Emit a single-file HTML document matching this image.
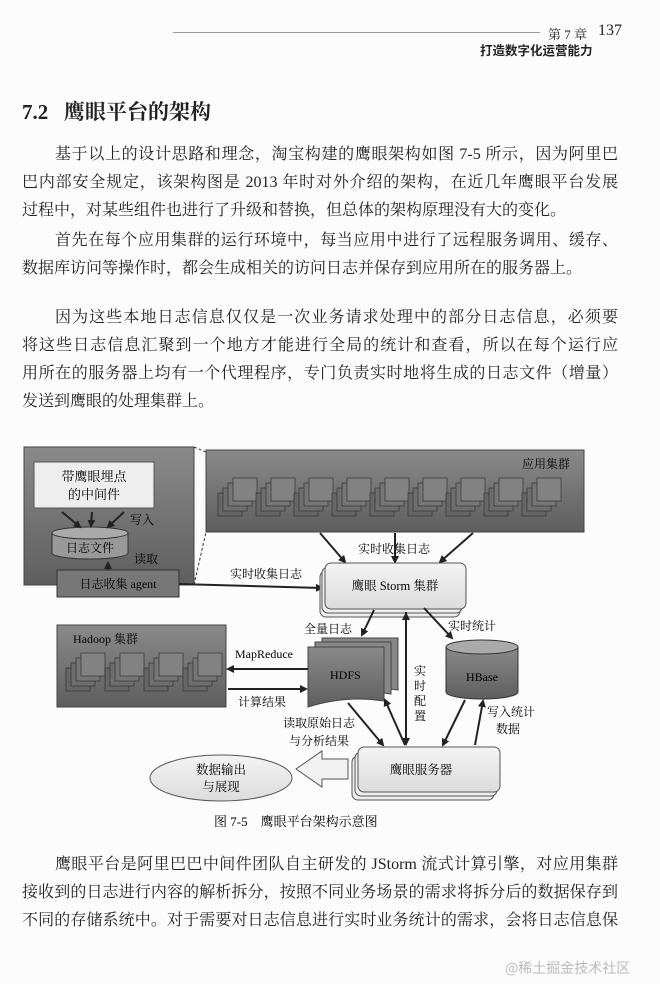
<!DOCTYPE html>
<html><head><meta charset="utf-8">
<style>
html,body{margin:0;padding:0;background:#fcfcfc;}
body{width:660px;height:984px;position:relative;overflow:hidden;font-family:"Liberation Serif","Noto Serif CJK SC",serif;color:#222;}
.a{position:absolute;white-space:nowrap;}
.l{position:absolute;left:22px;width:596px;font-size:16px;height:20px;line-height:20px;text-align:justify;text-align-last:justify;white-space:nowrap;overflow:visible}
.l.i{left:55px;width:563px}
.l.e{text-align-last:left}
</style></head><body>
<div class="a" style="left:173px;top:32px;width:367px;border-top:1px solid #999"></div>
<div class="a" style="left:548px;top:24px;font-size:13px">第 7 章</div>
<div class="a" style="left:598px;top:22px;font-size:16px">137</div>
<div class="a" style="left:480px;top:40px;font-size:12.5px;font-weight:bold;font-family:'Noto Sans CJK SC',sans-serif">打造数字化运营能力</div>
<div class="a" style="left:22px;top:96px;font-size:21px;font-weight:bold;font-family:'Liberation Serif','Noto Serif CJK SC',serif">7.2&nbsp;&nbsp;&nbsp;鹰眼平台的架构</div>

<div class="l i" style="top:145px">基于以上的设计思路和理念，淘宝构建的鹰眼架构如图 7-5 所示，因为阿里巴</div>
<div class="l" style="top:173px">巴内部安全规定，该架构图是 2013 年时对外介绍的架构，在近几年鹰眼平台发展</div>
<div class="l e" style="top:201px">过程中，对某些组件也进行了升级和替换，但总体的架构原理没有大的变化。</div>
<div class="l i" style="top:231px">首先在每个应用集群的运行环境中，每当应用中进行了远程服务调用、缓存、</div>
<div class="l e" style="top:259px">数据库访问等操作时，都会生成相关的访问日志并保存到应用所在的服务器上。</div>
<div class="l i" style="top:308px">因为这些本地日志信息仅仅是一次业务请求处理中的部分日志信息，必须要</div>
<div class="l" style="top:336px">将这些日志信息汇聚到一个地方才能进行全局的统计和查看，所以在每个运行应</div>
<div class="l" style="top:364px">用所在的服务器上均有一个代理程序，专门负责实时地将生成的日志文件（增量）</div>
<div class="l e" style="top:392px">发送到鹰眼的处理集群上。</div>

<svg class="a" style="left:0;top:0" width="660" height="984" font-family="Liberation Serif, Noto Serif CJK SC, serif">
<defs>
<linearGradient id="dk" x1="0" y1="0" x2="0" y2="1"><stop offset="0" stop-color="#8a8a8a"/><stop offset="1" stop-color="#5e5e5e"/></linearGradient>
<linearGradient id="lt" x1="0" y1="0" x2="0" y2="1"><stop offset="0" stop-color="#f4f4f4"/><stop offset="1" stop-color="#dcdcdc"/></linearGradient>
<marker id="ar" markerWidth="8" markerHeight="8" refX="6" refY="4" orient="auto" markerUnits="userSpaceOnUse"><path d="M0,0 L8,4 L0,8 z" fill="#222"/></marker>
<g id="st"><rect x="0" y="15" width="24" height="23" fill="#666" stroke="#333" stroke-width=".7"/><rect x="5" y="10" width="24" height="23" fill="#6e6e6e" stroke="#333" stroke-width=".7"/><rect x="10" y="5" width="24" height="23" fill="#767676" stroke="#333" stroke-width=".7"/><rect x="15" y="0" width="24" height="23" fill="#828282" stroke="#333" stroke-width=".7"/></g>
</defs>
<!-- left box -->
<rect x="24" y="447" width="170" height="138" fill="url(#dk)" stroke="#444"/>
<rect x="34" y="462" width="120" height="46" fill="#eee" stroke="#555"/>
<text x="94" y="481" font-size="13" text-anchor="middle">带鹰眼埋点</text>
<text x="94" y="499" font-size="13" text-anchor="middle">的中间件</text>
<path d="M52,533 v20 a38,6 0 0 0 76,0 v-20" fill="#999" stroke="#333"/>
<ellipse cx="90" cy="533" rx="38" ry="6" fill="#aaa" stroke="#333"/>
<text x="90" y="552" font-size="12" text-anchor="middle">日志文件</text>
<line x1="62" y1="512" x2="80" y2="527" stroke="#222" stroke-width="2" marker-end="url(#ar)"/>
<line x1="92" y1="512" x2="91" y2="526" stroke="#222" stroke-width="2" marker-end="url(#ar)"/>
<line x1="124" y1="512" x2="108" y2="527" stroke="#222" stroke-width="2" marker-end="url(#ar)"/>
<text x="130" y="524" font-size="12">写入</text>
<text x="134" y="563" font-size="12">读取</text>
<line x1="108" y1="570" x2="108" y2="563" stroke="#222" stroke-width="2" marker-end="url(#ar)"/>
<rect x="57" y="570" width="122" height="27" fill="#777" stroke="#333"/>
<text x="118" y="588" font-size="12" text-anchor="middle">日志收集 agent</text>
<line x1="194" y1="447" x2="206" y2="452" stroke="#333" stroke-dasharray="3,2"/>
<line x1="194" y1="585" x2="206" y2="532" stroke="#333" stroke-dasharray="3,2"/>
<!-- app cluster -->
<rect x="206" y="450" width="378" height="82" fill="url(#dk)" stroke="#444"/>
<text x="522" y="468" font-size="12">应用集群</text>
<use href="#st" x="218" y="478"/><use href="#st" x="256" y="478"/><use href="#st" x="294" y="478"/><use href="#st" x="332" y="478"/><use href="#st" x="370" y="478"/><use href="#st" x="408" y="478"/><use href="#st" x="446" y="478"/><use href="#st" x="484" y="478"/><use href="#st" x="522" y="478"/>
<!-- arrows to storm -->
<line x1="320" y1="533" x2="345" y2="562" stroke="#222" stroke-width="2" marker-end="url(#ar)"/>
<line x1="395" y1="533" x2="395" y2="562" stroke="#222" stroke-width="2" marker-end="url(#ar)"/>
<line x1="473" y1="533" x2="440" y2="562" stroke="#222" stroke-width="2" marker-end="url(#ar)"/>
<text x="358" y="553" font-size="12">实时收集日志</text>
<line x1="179" y1="584" x2="322" y2="588" stroke="#222" stroke-width="2" marker-end="url(#ar)"/>
<text x="230" y="578" font-size="12">实时收集日志</text>
<!-- storm -->
<rect x="320" y="571" width="140" height="46" rx="6" fill="#eee" stroke="#555"/>
<rect x="322" y="567" width="140" height="46" rx="6" fill="#eee" stroke="#555"/>
<rect x="325" y="563" width="141" height="46" rx="6" fill="url(#lt)" stroke="#555"/>
<text x="395" y="590" font-size="12.5" text-anchor="middle">鹰眼 Storm 集群</text>
<!-- hadoop -->
<rect x="57" y="625" width="169" height="82" fill="url(#dk)" stroke="#444"/>
<text x="73" y="643" font-size="12">Hadoop 集群</text>
<use href="#st" x="66" y="653"/><use href="#st" x="105" y="653"/><use href="#st" x="144" y="653"/><use href="#st" x="183" y="653"/>
<!-- hdfs -->
<path d="M322,638 h76 v52 q-38,-6 -76,6 z" fill="#888" stroke="#444"/>
<path d="M315,642 h76 v52 q-38,-6 -76,6 z" fill="#888" stroke="#444"/>
<path d="M308,647 h76 v54 q-38,-6 -76,6 z" fill="url(#dk)" stroke="#444"/>
<text x="330" y="679" font-size="12">HDFS</text>
<text x="352" y="633" font-size="12" text-anchor="end">全量日志</text>
<line x1="374" y1="610" x2="362" y2="635" stroke="#222" stroke-width="2" marker-end="url(#ar)"/>
<line x1="308" y1="669" x2="228" y2="669" stroke="#222" stroke-width="2" marker-end="url(#ar)"/>
<text x="235" y="658" font-size="12">MapReduce</text>
<line x1="228" y1="689" x2="306" y2="689" stroke="#222" stroke-width="2" marker-end="url(#ar)"/>
<text x="238" y="706" font-size="12">计算结果</text>
<!-- hbase -->
<path d="M446,647 v45 a36,7 0 0 0 72,0 v-45" fill="url(#dk)" stroke="#333"/>
<ellipse cx="482" cy="647" rx="36" ry="7" fill="#aaa" stroke="#333"/>
<text x="482" y="681" font-size="12" text-anchor="middle">HBase</text>
<line x1="424" y1="608" x2="452" y2="638" stroke="#222" stroke-width="2" marker-end="url(#ar)"/>
<text x="448" y="630" font-size="12">实时统计</text>
<!-- storm <-> server -->
<line x1="406" y1="612" x2="406" y2="744" stroke="#222" stroke-width="2" marker-end="url(#ar)"/>
<line x1="406" y1="744" x2="406" y2="614" stroke="#222" stroke-width="2" marker-end="url(#ar)"/>
<text x="414" y="675" font-size="12">实</text><text x="414" y="690" font-size="12">时</text><text x="414" y="705" font-size="12">配</text><text x="414" y="720" font-size="12">置</text>
<line x1="348" y1="703" x2="383" y2="745" stroke="#222" stroke-width="2" marker-end="url(#ar)"/>
<line x1="405" y1="745" x2="385" y2="700" stroke="#222" stroke-width="2" marker-end="url(#ar)"/>
<text x="283" y="727" font-size="12">读取原始日志</text>
<text x="289" y="745" font-size="12">与分析结果</text>
<line x1="465" y1="700" x2="443" y2="745" stroke="#222" stroke-width="2" marker-end="url(#ar)"/>
<line x1="475" y1="745" x2="483" y2="701" stroke="#222" stroke-width="2" marker-end="url(#ar)"/>
<text x="487" y="716" font-size="12">写入统计</text>
<text x="496" y="733" font-size="12">数据</text>
<!-- server -->
<rect x="352" y="756" width="142" height="44" rx="6" fill="#eee" stroke="#555"/>
<rect x="355" y="752" width="142" height="44" rx="6" fill="#eee" stroke="#555"/>
<rect x="358" y="747" width="142" height="45" rx="6" fill="url(#lt)" stroke="#555"/>
<text x="421" y="774" font-size="12.5" text-anchor="middle">鹰眼服务器</text>
<!-- big arrow -->
<path d="M348,759 h-26 v-8 l-26,18 l26,18 v-8 h26 z" fill="#f2f2f2" stroke="#555"/>
<ellipse cx="221" cy="778" rx="71" ry="23" fill="url(#lt)" stroke="#555"/>
<text x="221" y="774" font-size="12.5" text-anchor="middle">数据输出</text>
<text x="221" y="791" font-size="12.5" text-anchor="middle">与展现</text>
<text x="214" y="826" font-size="13">图 7-5　鹰眼平台架构示意图</text>
</svg>

<div class="l i" style="top:855px">鹰眼平台是阿里巴巴中间件团队自主研发的 JStorm 流式计算引擎，对应用集群</div>
<div class="l" style="top:883px">接收到的日志进行内容的解析拆分，按照不同业务场景的需求将拆分后的数据保存到</div>
<div class="l" style="top:911px">不同的存储系统中。对于需要对日志信息进行实时业务统计的需求，会将日志信息保</div>
<div class="a" style="left:505px;top:958px;font-size:14px;color:#bbb;font-family:'Noto Sans CJK SC',sans-serif">@稀土掘金技术社区</div>
</body></html>
